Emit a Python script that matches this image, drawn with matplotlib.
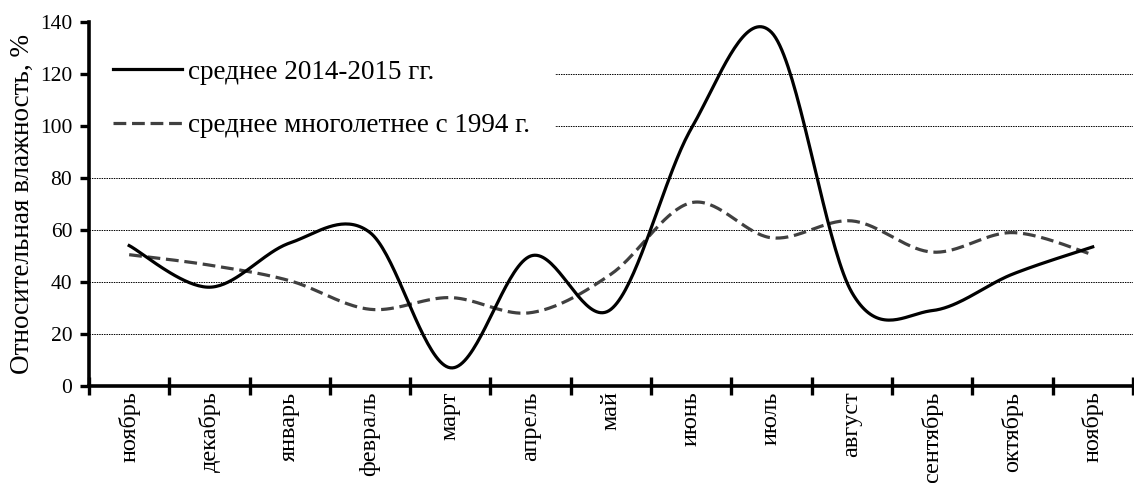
import numpy as np
import matplotlib
matplotlib.use('Agg')
import matplotlib.pyplot as plt

months = ['ноябрь', 'декабрь', 'январь', 'февраль', 'март', 'апрель', 'май',
          'июнь', 'июль', 'август', 'сентябрь', 'октябрь', 'ноябрь']
humidity_2014_2015 = [54, 38, 55, 59, 7, 50, 29.5, 99, 136, 36, 29, 43, 53.5]
humidity_longterm = [50.5, 46.5, 40.5, 29.5, 34, 28.2, 43, 70.5, 57, 63.5, 51.5, 59, 50.5]

label_a = 'среднее 2014-2015 гг.'
label_b = 'среднее многолетнее с 1994 г.'


def smooth(x, y, n=40, tension=0.5):
    # Excel-like smoothed line: cardinal (Catmull-Rom) spline through the points
    x = np.asarray(x, float)
    y = np.asarray(y, float)
    px = np.concatenate([[x[0]], x, [x[-1]]])
    py = np.concatenate([[y[0]], y, [y[-1]]])
    xs, ys = [], []
    t = np.linspace(0, 1, n)
    for i in range(1, len(px) - 2):
        p0, p1, p2, p3 = (np.array([px[j], py[j]]) for j in range(i - 1, i + 3))
        m1 = tension * (p2 - p0)
        m2 = tension * (p3 - p1)
        h00 = 2 * t**3 - 3 * t**2 + 1
        h10 = t**3 - 2 * t**2 + t
        h01 = -2 * t**3 + 3 * t**2
        h11 = t**3 - t**2
        pts = (np.outer(h00, p1) + np.outer(h10, m1) + np.outer(h01, p2) + np.outer(h11, m2))
        xs.extend(pts[:, 0])
        ys.extend(pts[:, 1])
    return np.array(xs), np.array(ys)


plt.rcParams['font.family'] = ['Liberation Serif', 'DejaVu Serif']

fig = plt.figure(figsize=(11.34, 4.83), dpi=100)
ax = fig.add_axes([0.0785, 0.2008, 0.9205, 0.7537])

pos = np.arange(len(months))
xa, ya = smooth(pos, humidity_2014_2015)
xb, yb = smooth(pos, humidity_longterm)
ax.plot(xa, ya, color='black', lw=2.3, label=label_a, zorder=3)
ax.plot(xb, yb, color='#404040', lw=2.3, ls=(0, (4.0, 1.8)), label=label_b, zorder=2)

ax.set_xlim(-0.5, len(months) - 0.5)
ax.set_ylim(0, 140)
ax.set_yticks(np.arange(0, 141, 20))
for g in range(20, 121, 20):
    ax.axhline(g, color='black', lw=0.7, ls=(0, (1.5, 1)), zorder=1)

ax.set_xticks(pos)
ax.set_xticklabels(months, rotation=90, fontsize=17.5)
ax.tick_params(axis='x', length=0, pad=4)
ax.set_xticks(np.arange(-0.5, len(months)), minor=True)
ax.tick_params(axis='x', which='minor', direction='inout', length=13, width=2.4)
ax.tick_params(axis='y', direction='out', length=6.5, width=2.4, labelsize=15.5, pad=5.5)

for s in ['top', 'right']:
    ax.spines[s].set_visible(False)
for s in ['left', 'bottom']:
    ax.spines[s].set_linewidth(2.6)
    ax.spines[s].set_zorder(6)

ax.set_ylabel('Относительная влажность, %', fontsize=19.5, labelpad=4)

leg = ax.legend(loc='upper left', bbox_to_anchor=(0.0, 0.963), borderaxespad=0,
                fontsize=19.5, handlelength=2.55, handletextpad=0.22,
                labelspacing=1.04, frameon=True, fancybox=False, borderpad=0.9)
leg.get_frame().set_facecolor('white')
leg.get_frame().set_edgecolor('none')
leg.get_frame().set_alpha(1)

fig.savefig('out.png', dpi=100)
